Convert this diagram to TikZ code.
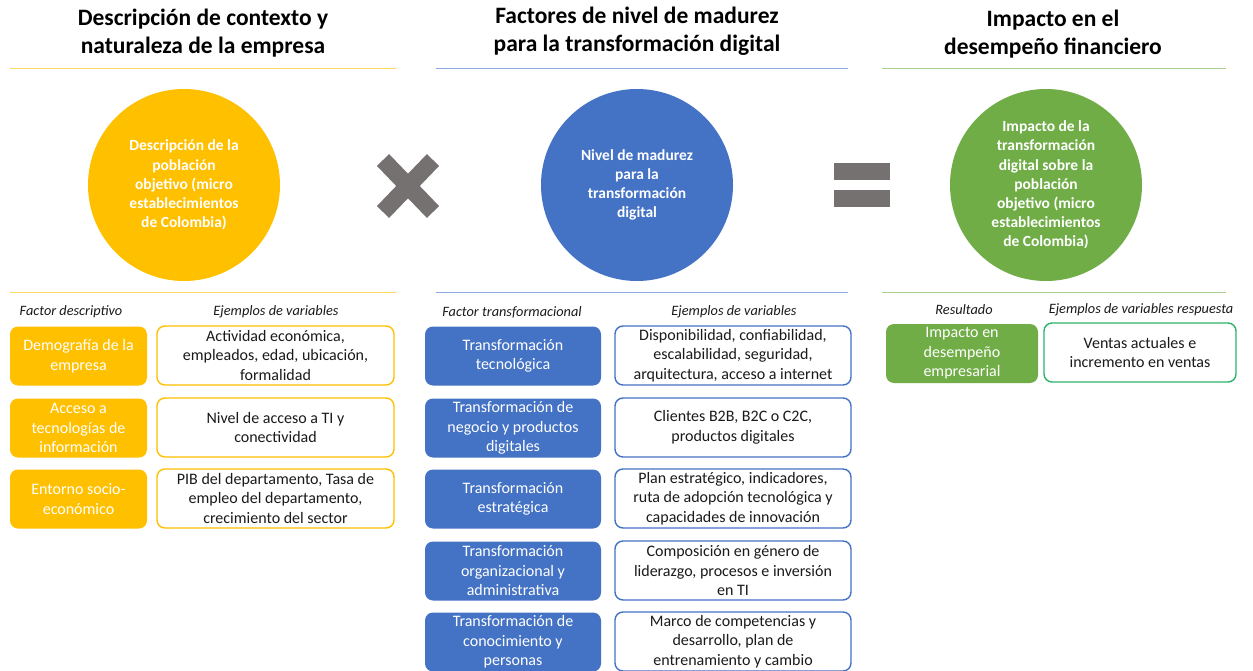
\documentclass[tikz,border=0pt]{standalone}
\usepackage{fontspec}
\setmainfont{Carlito}
\definecolor{amber}{HTML}{FFC000}
\definecolor{amberline}{HTML}{FFD966}
\definecolor{royal}{HTML}{4472C4}
\definecolor{royalline}{HTML}{8EA9DB}
\definecolor{leaf}{HTML}{70AD47}
\definecolor{leafline}{HTML}{A9D18E}
\definecolor{mint}{HTML}{2DB36A}
\definecolor{opgray}{HTML}{767171}
\definecolor{ink}{HTML}{1A1A1A}
\tikzset{
  title/.style={align=center, font=\fontsize{23.5}{28.5}\selectfont\bfseries, text=black},
  colhead/.style={font=\fontsize{14.3}{16}\selectfont\itshape, text=ink},
  bigdisc/.style={circle, minimum size=192pt, inner sep=0pt, align=center,
    text=white, font=\fontsize{15.5}{19.2}\selectfont\bfseries},
  factorbox/.style={rounded corners=8pt, minimum height=59pt, inner sep=0pt,
    align=center, text=white, font=\fontsize{16}{19.5}\selectfont},
  examplebox/.style={draw, fill=white, line width=1.4pt, rounded corners=8pt,
    minimum height=59pt, inner sep=0pt, align=center, text=ink,
    font=\fontsize{16}{19.5}\selectfont},
  rule/.style={line width=1pt}
}
\begin{document}
\begin{tikzpicture}[x=1pt,y=-1pt]
\useasboundingbox[fill=white] (0,0) rectangle (1253,671);

% ---- column titles and rules
\node[title] (t1) at (203,33) {Descripción de contexto y\\naturaleza de la empresa};
\node[title] (t2) at (637,31) {Factores de nivel de madurez\\para la transformación digital};
\node[title] (t3) at (1053,34) {Impacto en el\\desempeño financiero};

\draw[rule, amberline] (10,69) -- (396,69);
\draw[rule, royalline] (436,69) -- (848,69);
\draw[rule, leafline] (882,69) -- (1226,69);
\draw[rule, amberline] (10,292) -- (396,292);
\draw[rule, royalline] (436,292) -- (848,292);
\draw[rule, leafline] (882,292) -- (1226,292);

% ---- discs
\node[bigdisc, fill=amber] (c1) at (184,185)
  {Descripción de la\\población\\objetivo (micro\\establecimientos\\de Colombia)};
\node[bigdisc, fill=royal] (c2) at (637,185)
  {Nivel de madurez\\para la\\transformación\\digital};
\node[bigdisc, fill=leaf] (c3) at (1046,185)
  {Impacto de la\\transformación\\digital sobre la\\población\\objetivo (micro\\establecimientos\\de Colombia)};

% ---- operators
\draw[opgray, line width=17pt] (383,160) -- (433,212);
\draw[opgray, line width=17pt] (433,160) -- (383,212);
\fill[opgray] (834,163) rectangle (890,180);
\fill[opgray] (834,190) rectangle (890,207);

% ---- column headings
\node[colhead] (h1) at (71,312) {Factor descriptivo};
\node[colhead] (h2) at (276,312) {Ejemplos de variables};
\node[colhead] (h3) at (512,312) {Factor transformacional};
\node[colhead] (h4) at (734,312) {Ejemplos de variables};
\node[colhead] (h5) at (964,310) {Resultado};
\node[colhead] (h6) at (1141,310) {Ejemplos de variables respuesta};

% ---- descriptive factors
\begin{scope}[every node/.append style={minimum width=137pt}]
\node[factorbox, fill=amber] (y1) at (78.5,356) {Demografía de la\\empresa};
\node[factorbox, fill=amber] (y2) at (78.5,428) {Acceso a\\tecnologías de\\información};
\node[factorbox, fill=amber] (y3) at (78.5,499) {Entorno socio-\\económico};
\end{scope}
\begin{scope}[every node/.append style={minimum width=237pt, draw=amber}]
\node[examplebox] (ye1) at (275.5,355.5) {Actividad económica,\\empleados, edad, ubicación,\\formalidad};
\node[examplebox] (ye2) at (275.5,427.5) {Nivel de acceso a TI y\\conectividad};
\node[examplebox] (ye3) at (275.5,498.5) {PIB del departamento, Tasa de\\empleo del departamento,\\crecimiento del sector};
\end{scope}

% ---- transformational factors
\begin{scope}[every node/.append style={minimum width=176pt}]
\node[factorbox, fill=royal] (b1) at (513,356) {Transformación\\tecnológica};
\node[factorbox, fill=royal] (b2) at (513,428) {Transformación de\\negocio y productos\\digitales};
\node[factorbox, fill=royal] (b3) at (513,499) {Transformación\\estratégica};
\node[factorbox, fill=royal] (b4) at (513,571) {Transformación\\organizacional y\\administrativa};
\node[factorbox, fill=royal] (b5) at (513,642) {Transformación de\\conocimiento y\\personas};
\end{scope}
\begin{scope}[every node/.append style={minimum width=236pt, draw=royal}]
\node[examplebox] (be1) at (733,355.5) {Disponibilidad, confiabilidad,\\escalabilidad, seguridad,\\arquitectura, acceso a internet};
\node[examplebox] (be2) at (733,427.5) {Clientes B2B, B2C o C2C,\\productos digitales};
\node[examplebox] (be3) at (733,498.5) {Plan estratégico, indicadores,\\ruta de adopción tecnológica y\\capacidades de innovación};
\node[examplebox] (be4) at (733,570.5) {Composición en género de\\liderazgo, procesos e inversión\\en TI};
\node[examplebox] (be5) at (733,641.5) {Marco de competencias y\\desarrollo, plan de\\entrenamiento y cambio};
\end{scope}

% ---- result
\node[factorbox, fill=leaf, minimum width=152pt] (g1) at (962,353.5) {Impacto en\\desempeño\\empresarial};
\node[examplebox, draw=mint, minimum width=192pt] (ge1) at (1140,352.5) {Ventas actuales e\\incremento en ventas};
\end{tikzpicture}
\end{document}
